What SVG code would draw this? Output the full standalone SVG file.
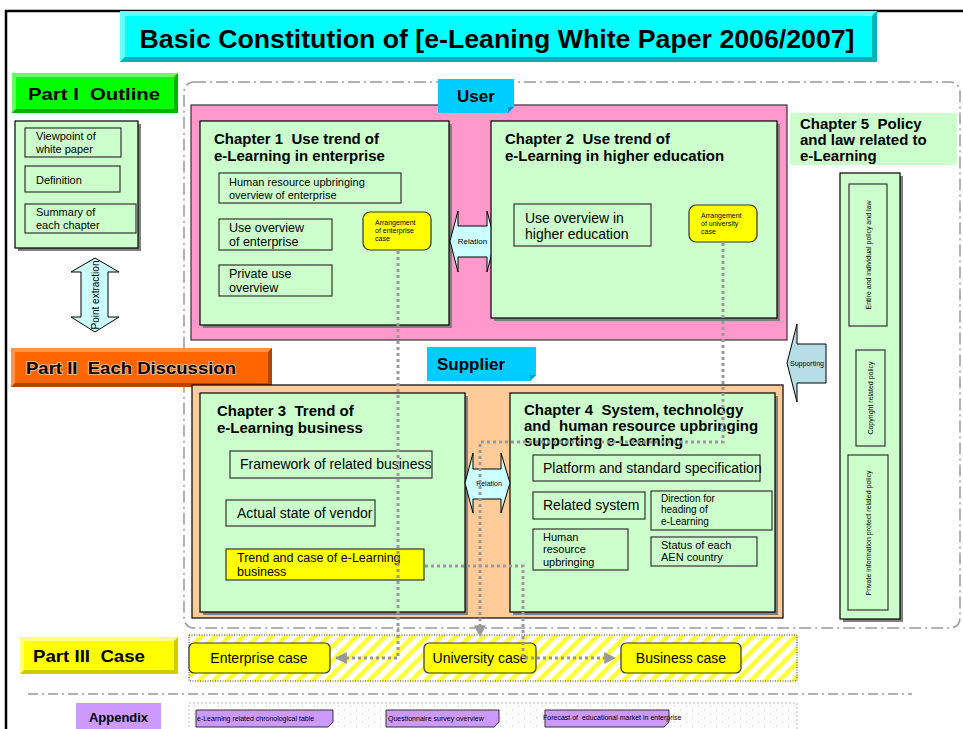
<svg xmlns="http://www.w3.org/2000/svg" width="963" height="729" viewBox="0 0 963 729">
<defs>
<style>
text{font-family:"Liberation Sans",Arial,sans-serif;fill:#000;white-space:pre}
.b{font-weight:bold}
.box{fill:#ccffcc;stroke:#000;stroke-width:1.2}
.sh{fill:#808080}
.sub{fill:none;stroke:#333;stroke-width:1.2}
.yel{fill:#ffff00;stroke:#333;stroke-width:1.2}
.dot{fill:none;stroke:#999;stroke-width:3;stroke-dasharray:3 3}
.dd{fill:none;stroke:#999;stroke-width:1.5;stroke-dasharray:12 4 2 4}
.s7{font-size:7px}
.s10{font-size:10px}
.s11{font-size:11px}
.s13{font-size:12.5px}
.s14{font-size:14px}
.h{font-size:15px;font-weight:bold}
.lbl{font-size:17px;font-weight:bold}
.note{fill:#cc99ff;stroke:#333;stroke-width:1}
</style>
<pattern id="hatch" width="10" height="10" patternUnits="userSpaceOnUse" patternTransform="rotate(45)">
<rect width="10" height="10" fill="#fff"/><rect width="4.5" height="10" fill="#ffff33"/>
</pattern>
<pattern id="spk" width="12" height="8" patternUnits="userSpaceOnUse">
<rect width="12" height="8" fill="#fff"/><rect x="2" y="1" width="1" height="2" fill="#ddd"/><rect x="8" y="5" width="1" height="2" fill="#ddd"/>
</pattern>
<marker id="ah" viewBox="0 0 10 10" refX="9" refY="5" markerWidth="4" markerHeight="4" orient="auto" markerUnits="strokeWidth">
<path d="M0,0 L10,5 L0,10 z" fill="#999"/>
</marker>
</defs>
<rect width="963" height="729" fill="#fff"/>
<rect x="6" y="11" width="1000" height="800" fill="none" stroke="#000" stroke-width="2.5"/>

<g id="title">
<rect x="120" y="11" width="757" height="51" fill="#00ffff"/>
<polygon points="120,11 877,11 872,16 125,16" fill="#66ffff"/>
<polygon points="120,11 125,16 125,57 120,62" fill="#66ffff"/>
<polygon points="877,11 877,62 872,57 872,16" fill="#00b3b3"/>
<polygon points="120,62 877,62 872,57 125,57" fill="#00b3b3"/>
<text x="497" y="48" text-anchor="middle" class="b" font-size="25" textLength="715" lengthAdjust="spacingAndGlyphs">Basic Constitution of [e-Leaning White Paper 2006/2007]</text>
</g>

<rect x="184" y="82" width="776" height="546" rx="10" class="dd"/>

<g id="part1">
<rect x="12" y="73" width="166" height="40" fill="#00ff00"/>
<polygon points="12,73 178,73 174,77 16,77" fill="#66ff66"/>
<polygon points="12,73 16,77 16,109 12,113" fill="#66ff66"/>
<polygon points="178,73 178,113 174,109 174,77" fill="#00b300"/>
<polygon points="12,113 178,113 174,109 16,109" fill="#00b300"/>
<text x="28" y="100" class="lbl" textLength="132" lengthAdjust="spacingAndGlyphs">Part I  Outline</text>
</g>

<g id="outline">
<rect x="18" y="124" width="123" height="127" class="sh"/>
<rect x="15" y="121" width="123" height="127" class="box" stroke="#333"/>
<rect x="25" y="128" width="96" height="29" class="sub"/>
<text x="36" y="140" class="s11">Viewpoint of</text>
<text x="36" y="152.5" class="s11">white paper</text>
<rect x="25" y="166" width="95" height="26" class="sub"/>
<text x="36" y="184" class="s11">Definition</text>
<rect x="25" y="204" width="111" height="29" class="sub"/>
<text x="36" y="216" class="s11">Summary of</text>
<text x="36" y="228.5" class="s11">each chapter</text>
</g>

<g id="point-extraction">
<polygon points="95,258 119,272 108,272 108,317 119,317 95,332 71,317 81,317 81,272 71,272" fill="#ccffff" stroke="#000" stroke-width="1"/>
<text transform="translate(99,295) rotate(-90)" text-anchor="middle" font-size="10">Point extraction</text>
</g>

<g id="user-area">
<rect x="191" y="105" width="596" height="235" fill="#ff99cc" stroke="#333" stroke-width="1.2"/>
</g>

<g id="user">
<polygon points="438,79 514,79 514,107 508,113 438,113" fill="#00ccff"/>
<polygon points="508,113 514,107 508,107" fill="#0099cc"/>
<text x="476" y="102" text-anchor="middle" class="lbl">User</text>
</g>

<g id="chapter1">
<rect x="203" y="124" width="249" height="204" class="sh"/>
<rect x="200" y="121" width="249" height="204" class="box"/>
<text x="214" y="144" class="h">Chapter 1  Use trend of</text>
<text x="214" y="161" class="h">e-Learning in enterprise</text>
<rect x="219" y="173" width="182" height="30" class="sub"/>
<text x="229" y="186" class="s11">Human resource upbringing</text>
<text x="229" y="198.5" class="s11">overview of enterprise</text>
<rect x="219" y="219" width="113" height="31" class="sub"/>
<text x="229" y="232" class="s13">Use overview</text>
<text x="229" y="246" class="s13">of enterprise</text>
<rect x="219" y="265" width="113" height="31" class="sub"/>
<text x="229" y="278" class="s13">Private use</text>
<text x="229" y="292" class="s13">overview</text>
</g>

<g id="arr-enterprise">
<rect x="363" y="212" width="68" height="38" rx="7" class="yel"/>
<text x="375" y="225" class="s7">Arrangement</text>
<text x="375" y="233" class="s7">of enterprise</text>
<text x="375" y="241" class="s7">case</text>
</g>

<g id="relation1">
<polygon points="450,241 458,211 458,226 487,226 487,211 495,241 487,272 487,257 458,257 458,272" fill="#ccffff" stroke="#000" stroke-width="1"/>
<text x="472.5" y="244" text-anchor="middle" font-size="8">Relation</text>
</g>

<g id="chapter2">
<rect x="494" y="124" width="286" height="197" class="sh"/>
<rect x="491" y="121" width="286" height="197" class="box"/>
<text x="505" y="144" class="h">Chapter 2  Use trend of</text>
<text x="505" y="161" class="h">e-Learning in higher education</text>
<rect x="514" y="204" width="137" height="42" class="sub"/>
<text x="525" y="223" class="s14">Use overview in</text>
<text x="525" y="239" class="s14">higher education</text>
</g>

<g id="arr-university">
<rect x="689" y="205" width="68" height="37" rx="7" class="yel"/>
<text x="701" y="218" class="s7">Arrangement</text>
<text x="701" y="226" class="s7">of university</text>
<text x="701" y="234" class="s7">case</text>
</g>

<g id="chapter5">
<rect x="790" y="113" width="167" height="52" fill="#ccffcc"/>
<text x="800" y="129" class="h" font-size="14">Chapter 5  Policy</text>
<text x="800" y="145" class="h" font-size="14">and law related to</text>
<text x="800" y="161" class="h" font-size="14">e-Learning</text>
<rect x="843" y="176" width="60" height="446" class="sh"/>
<rect x="840" y="173" width="60" height="446" class="box"/>
<rect x="849" y="184" width="38" height="142" class="sub"/>
<text transform="translate(871,255) rotate(-90)" text-anchor="middle" class="s7">Entire and individual policy and law</text>
<rect x="856" y="350" width="29" height="96" class="sub"/>
<text transform="translate(873,398) rotate(-90)" text-anchor="middle" class="s7">Copyright related policy</text>
<rect x="848" y="455" width="40" height="155" class="sub"/>
<text transform="translate(871,533) rotate(-90)" text-anchor="middle" class="s7">Private information protect related policy</text>
</g>

<g id="supporting">
<polygon points="787,363 797,324 797,344 826,344 826,383 797,383 797,402" fill="#b7dde6" stroke="#000" stroke-width="1"/>
<text x="807" y="366" text-anchor="middle" class="s7">Supporting</text>
</g>

<g id="part2">
<rect x="11" y="348" width="261" height="39" fill="#ff6600"/>
<polygon points="11,348 272,348 268,352 15,352" fill="#ff944d"/>
<polygon points="11,348 15,352 15,383 11,387" fill="#ff944d"/>
<polygon points="272,348 272,387 268,383 268,352" fill="#b34700"/>
<polygon points="11,387 272,387 268,383 15,383" fill="#b34700"/>
<text x="26" y="374" class="lbl" textLength="210" lengthAdjust="spacingAndGlyphs" style="stroke:#fff;stroke-width:2;stroke-opacity:0.5;paint-order:stroke">Part II  Each Discussion</text>
</g>

<g id="supplier-area">
<rect x="192" y="385" width="591" height="233" fill="#ffcc99" stroke="#000" stroke-width="1.2"/>
</g>

<g id="supplier">
<polygon points="427,347 536,347 536,375 530,381 427,381" fill="#00ccff"/>
<polygon points="530,381 536,375 530,375" fill="#0099cc"/>
<text x="471" y="370" text-anchor="middle" class="lbl">Supplier</text>
</g>

<g id="chapter3">
<rect x="203" y="396" width="265" height="219" class="sh"/>
<rect x="200" y="393" width="265" height="219" class="box"/>
<text x="217" y="416" class="h">Chapter 3  Trend of</text>
<text x="217" y="433" class="h">e-Learning business</text>
<rect x="230" y="451" width="202" height="27" class="sub"/>
<text x="240" y="469" class="s14">Framework of related business</text>
<rect x="226" y="500" width="149" height="26" class="sub"/>
<text x="237" y="518" class="s14">Actual state of vendor</text>
</g>

<g id="trend-case">
<rect x="226" y="549" width="198" height="31" class="yel"/>
<text x="237" y="562" class="s13">Trend and case of e-Learning</text>
<text x="237" y="576" class="s13">business</text>
</g>

<g id="chapter4">
<rect x="513" y="396" width="265" height="219" class="sh"/>
<rect x="510" y="393" width="265" height="219" class="box"/>
<text x="524" y="415" class="h" font-size="13.8">Chapter 4  System, technology</text>
<text x="524" y="430.5" class="h" font-size="13.8">and  human resource upbringing</text>
<text x="524" y="446" class="h" font-size="13.8">supporting e-Learning</text>
<rect x="533" y="455" width="227" height="26" class="sub"/>
<text x="543" y="473" class="s14">Platform and standard specification</text>
<rect x="533" y="492" width="112" height="27" class="sub"/>
<text x="543" y="510" class="s14">Related system</text>
<rect x="651" y="491" width="121" height="39" class="sub"/>
<text x="661" y="502" class="s10">Direction for</text>
<text x="661" y="513.3" class="s10">heading of</text>
<text x="661" y="524.6" class="s10">e-Learning</text>
<rect x="533" y="529" width="95" height="41" class="sub"/>
<text x="543" y="541" class="s11">Human</text>
<text x="543" y="553.4" class="s11">resource</text>
<text x="543" y="565.8" class="s11">upbringing</text>
<rect x="651" y="537" width="106" height="29" class="sub"/>
<text x="661" y="549" class="s11">Status of each</text>
<text x="661" y="561.4" class="s11">AEN country</text>
</g>

<g id="relation2">
<polygon points="465,483 473,453 473,469 501,469 501,453 510,483 501,513 501,499 473,499 473,513" fill="#ccffff" stroke="#000" stroke-width="1"/>
<text x="489" y="486" text-anchor="middle" font-size="7">Relation</text>
</g>

<g id="part3">
<rect x="20" y="637" width="158" height="37" fill="#ffff00"/>
<polygon points="20,637 178,637 174,641 24,641" fill="#ffff80"/>
<polygon points="20,637 24,641 24,670 20,674" fill="#ffff80"/>
<polygon points="178,637 178,674 174,670 174,641" fill="#cccc00"/>
<polygon points="20,674 178,674 174,670 24,670" fill="#cccc00"/>
<text x="33" y="662" class="lbl" textLength="112" lengthAdjust="spacingAndGlyphs">Part III  Case</text>
</g>

<g id="case-area">
<rect x="189" y="635" width="608" height="46" fill="url(#hatch)" stroke="#333" stroke-width="1" stroke-dasharray="1 1.5"/>
</g>

<g id="enterprise-case">
<rect x="189" y="643" width="141" height="30" rx="5" class="yel"/>
<text x="259" y="663" text-anchor="middle" class="s14">Enterprise case</text>
</g>
<g id="university-case">
<rect x="424" y="643" width="112" height="30" rx="5" class="yel"/>
<text x="480" y="663" text-anchor="middle" class="s14">University case</text>
</g>
<g id="business-case">
<rect x="621" y="643" width="120" height="30" rx="5" class="yel"/>
<text x="681" y="663" text-anchor="middle" class="s14">Business case</text>
</g>

<g id="connectors">
<path class="dot" d="M398,251 V658 H336" marker-end="url(#ah)"/>
<path class="dot" d="M723,243 V442 H480 V636" marker-end="url(#ah)"/>
<path class="dot" d="M425,566 H523 V658 H615" marker-end="url(#ah)"/>
</g>

<line x1="28" y1="694" x2="912" y2="694" stroke="#666" stroke-width="1.2" stroke-dasharray="10 4 2 4"/>

<g id="appendix">
<rect x="76" y="703" width="85" height="30" fill="#cc99ff"/>
<text x="118.5" y="722" text-anchor="middle" class="b" font-size="13">Appendix</text>
</g>

<g id="appendix-area">
<rect x="189" y="703" width="608" height="30" fill="url(#spk)" stroke="#bbb" stroke-width="1" stroke-dasharray="2 2"/>
</g>
<g id="note1">
<path d="M196,710 H333 V722 L328,727 H196 Z" class="note"/>
<text x="197" y="721" class="s7">e-Learning related chronological table</text>
</g>
<g id="note2">
<path d="M386,710 H499 V722 L494,727 H386 Z" class="note"/>
<text x="388" y="721" class="s7">Questionnaire survey overview</text>
</g>
<g id="note3">
<path d="M545,710 H669 V722 L664,727 H545 Z" class="note"/>
<text x="543" y="720" class="s7">Forecast of  educational market in enterprise</text>
</g>
</svg>
